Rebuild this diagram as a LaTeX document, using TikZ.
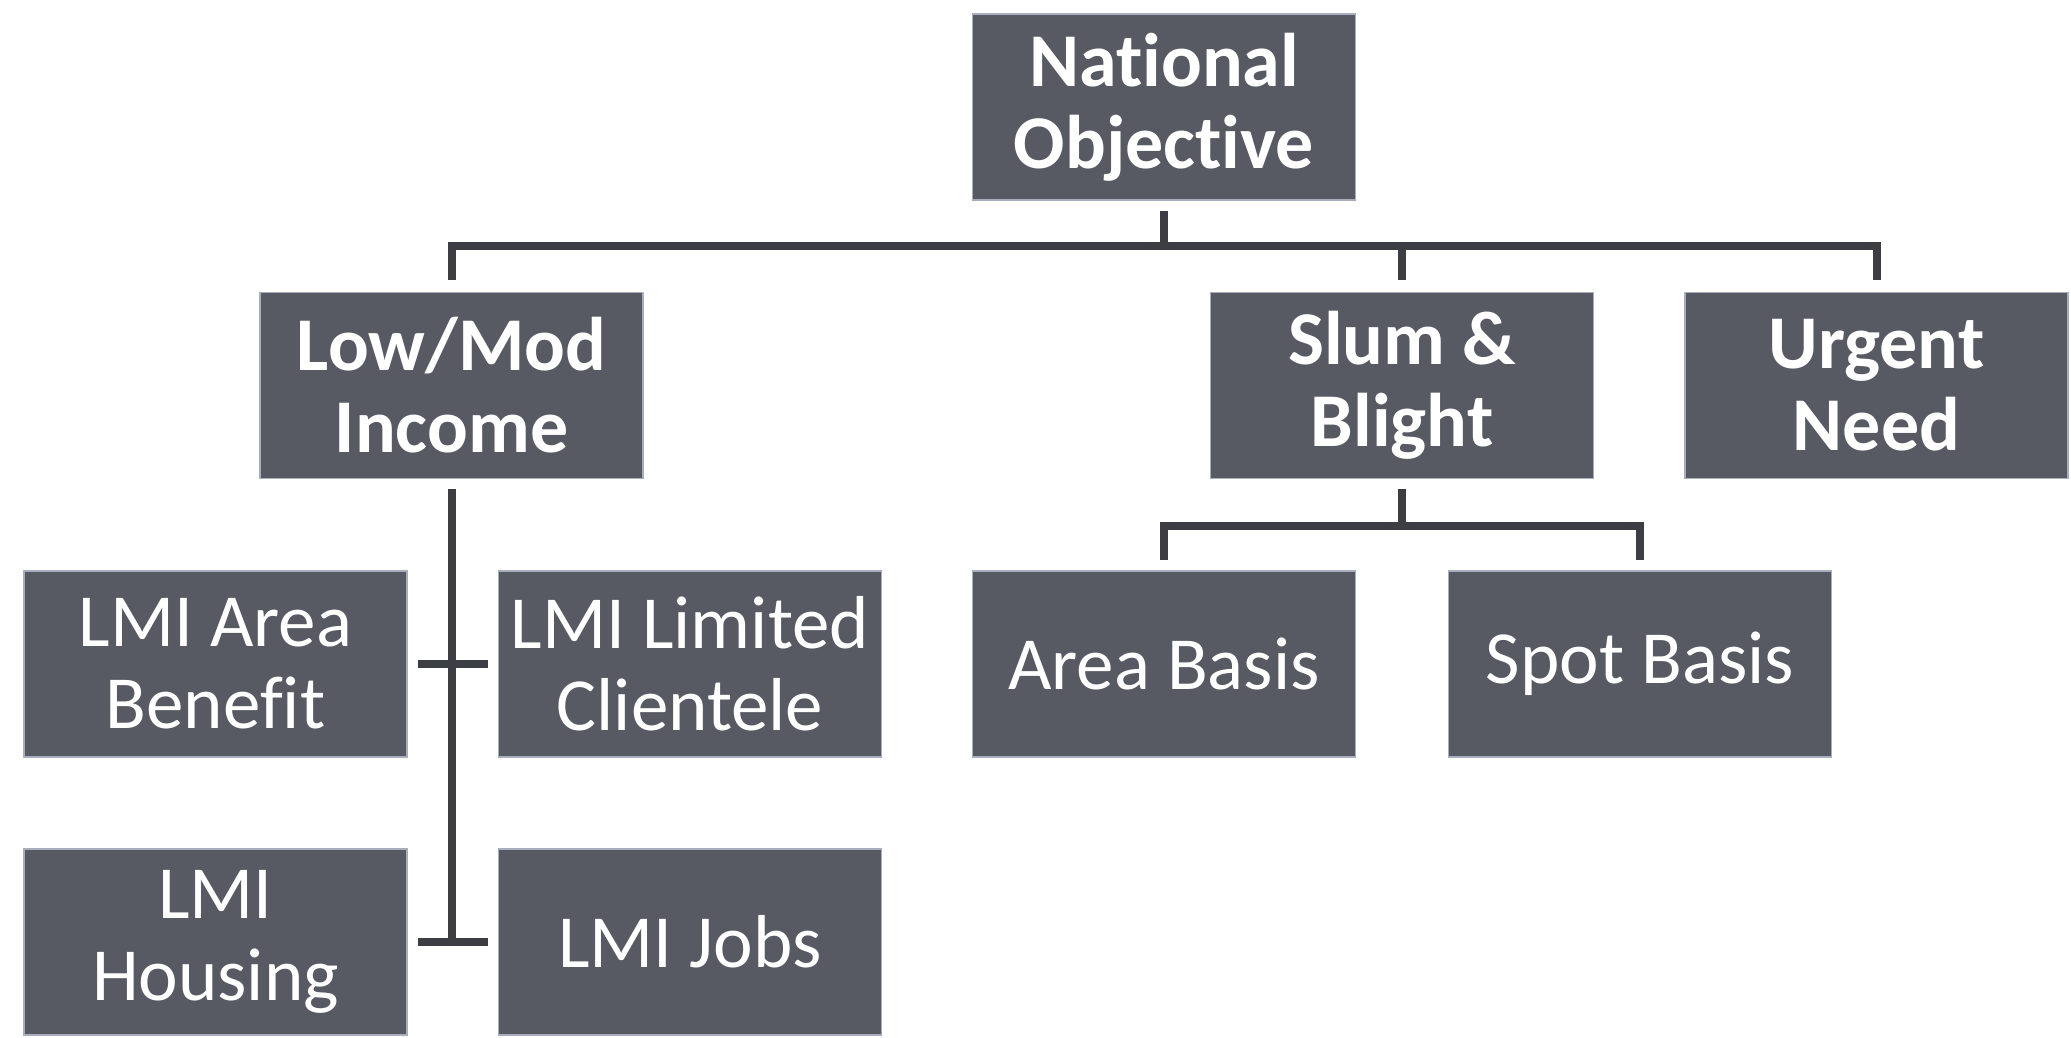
\documentclass[tikz,border=0pt]{standalone}
\usepackage{fontspec}
\setmainfont{Carlito}[Ligatures=NoCommon]
\usetikzlibrary{positioning}
\definecolor{boxgray}{RGB}{87,90,98}
\definecolor{linegray}{RGB}{60,62,68}
\definecolor{edgegray}{RGB}{168,174,188}
\tikzset{
  % General box
  box/.style={draw=edgegray, line width=1.5pt, fill=boxgray, text=white,
    shape=rectangle, minimum width=383pt, minimum height=186pt, inner
    sep=0pt, align=center, font=\fontsize{75}{82}\selectfont},
  % Top level box
  bbox/.style={box, font=\fontsize{76}{82}\selectfont\bfseries},
  % Connectors
  link/.style={draw=linegray, line width=8pt},
}

\begin{document}
\begin{tikzpicture}[x=1pt, y=-1pt]
  \useasboundingbox (0,0) rectangle (2071,1037);

  \node[bbox] (nat) at (1164,107) {National\\Objective};
  \node[bbox] (low) at (451.5,385.5) {Low/Mod\\Income};
  \node[bbox] (slum) at (1402,385.5) {Slum \&\\Blight};
  \node[bbox] (urg) at (1876.5,385.5) {Urgent\\Need};

  \node[box] (lab) at (215.5,664) {LMI Area\\Benefit};
  \node[box] (llc) at (690,664) {LMI Limited\\Clientele};
  \node[box] (lhs) at (215.5,942) {LMI\\Housing};
  \node[box] (ljb) at (690,942) {LMI Jobs};

  \node[box] (area) at (1164,664) {Area Basis};
  \node[box] (spot) at (1640,664) {Spot Basis};

  \coordinate (nbar) at (1164,246);
  \coordinate (sbar) at (1402,526);

  \draw[link] ([yshift=-10pt]nat.south) -- (nbar);
  \draw[link] ([yshift=12pt]low.north) |- (nbar) -| ([yshift=12pt]urg.north);
  \draw[link] (nbar -| slum.north) -- ([yshift=12pt]slum.north);

  \draw[link] ([yshift=-10pt]slum.south) -- (sbar);
  \draw[link] ([yshift=10pt]area.north) |- (sbar) -| ([yshift=10pt]spot.north);

  \draw[link] ([yshift=-10pt]low.south) -- ([yshift=-2pt]low.south |- ljb.west);
  \draw[link] ([xshift=10pt]lab.east) -- ([xshift=-10pt]llc.west);
  \draw[link] ([xshift=10pt]lhs.east) -- ([xshift=-10pt]ljb.west);
\end{tikzpicture}
\end{document}
